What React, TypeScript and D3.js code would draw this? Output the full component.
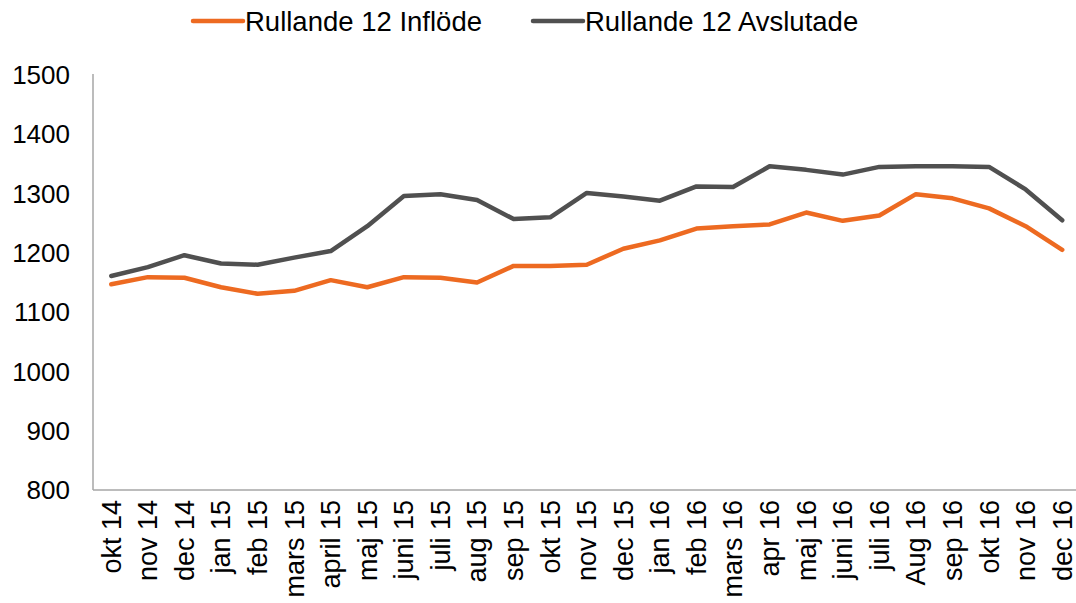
import React from "react";
import * as d3 from "d3";

const categories = [
  "okt 14", "nov 14", "dec 14", "jan 15", "feb 15", "mars 15", "april 15", "maj 15",
  "juni 15", "juli 15", "aug 15", "sep 15", "okt 15", "nov 15", "dec 15", "jan 16",
  "feb 16", "mars 16", "apr 16", "maj 16", "juni 16", "juli 16", "Aug 16", "sep 16",
  "okt 16", "nov 16", "dec 16",
];

const inflode = [
  1147, 1159, 1158, 1142, 1131, 1136, 1154, 1142, 1159, 1158, 1150, 1178, 1178, 1180,
  1207, 1221, 1241, 1245, 1248, 1268, 1254, 1263, 1299, 1292, 1275, 1245, 1205,
];

const avslutade = [
  1161, 1176, 1196, 1182, 1180, 1192, 1203, 1245, 1296, 1299, 1289, 1257, 1260, 1301,
  1295, 1288, 1312, 1311, 1346, 1340, 1332, 1345, 1346, 1346, 1345, 1307, 1255,
];

const yTicks = [800, 900, 1000, 1100, 1200, 1300, 1400, 1500];

const seriesNames = ["Rullande 12 Inflöde", "Rullande 12 Avslutade"];
const seriesColors = ["#ED6A21", "#505050"];

const W = 1076;
const H = 603;
const FONT = "'Liberation Sans', Arial, sans-serif";

export default function App() {
  const x = d3.scalePoint<string>().domain(categories).range([93, 1080.5]).padding(0.5);
  const y = d3.scaleLinear().domain([800, 1500]).range([490, 75]);
  const line = d3
    .line<number>()
    .x((_, i) => x(categories[i]) as number)
    .y((d) => y(d));

  const series = [inflode, avslutade];
  const legendX = [193, 533];

  return (
    <svg
      width={W}
      height={H}
      style={{ position: "absolute", left: 0, top: 0, background: "#fff" }}
      fontFamily={FONT}
    >
      <line x1={93} x2={93} y1={y(1500) - 1} y2={y(800)} stroke="#A6A6A6" strokeWidth={1.5} />
      <line x1={93} x2={1080} y1={y(800)} y2={y(800)} stroke="#A6A6A6" strokeWidth={1.5} />

      {yTicks.map((t) => (
        <text key={t} x={70} y={y(t)} dy="0.35em" textAnchor="end" fontSize={26} fill="#000">
          {t}
        </text>
      ))}

      {categories.map((c) => (
        <text
          key={c}
          transform={`translate(${x(c)},${500}) rotate(-90)`}
          textAnchor="end"
          dy="0.35em"
          fontSize={27}
          fill="#000"
        >
          {c}
        </text>
      ))}

      {series.map((s, i) => (
        <path
          key={i}
          d={line(s) || ""}
          fill="none"
          stroke={seriesColors[i]}
          strokeWidth={4.5}
          strokeLinejoin="round"
          strokeLinecap="round"
        />
      ))}

      {seriesNames.map((n, i) => (
        <g key={n}>
          <line
            x1={legendX[i]}
            x2={legendX[i] + 50}
            y1={21}
            y2={21}
            stroke={seriesColors[i]}
            strokeWidth={4.5}
            strokeLinecap="round"
          />
          <text x={legendX[i] + 52} y={21} dy="0.35em" fontSize={27.5} fill="#000">
            {n}
          </text>
        </g>
      ))}
    </svg>
  );
}
